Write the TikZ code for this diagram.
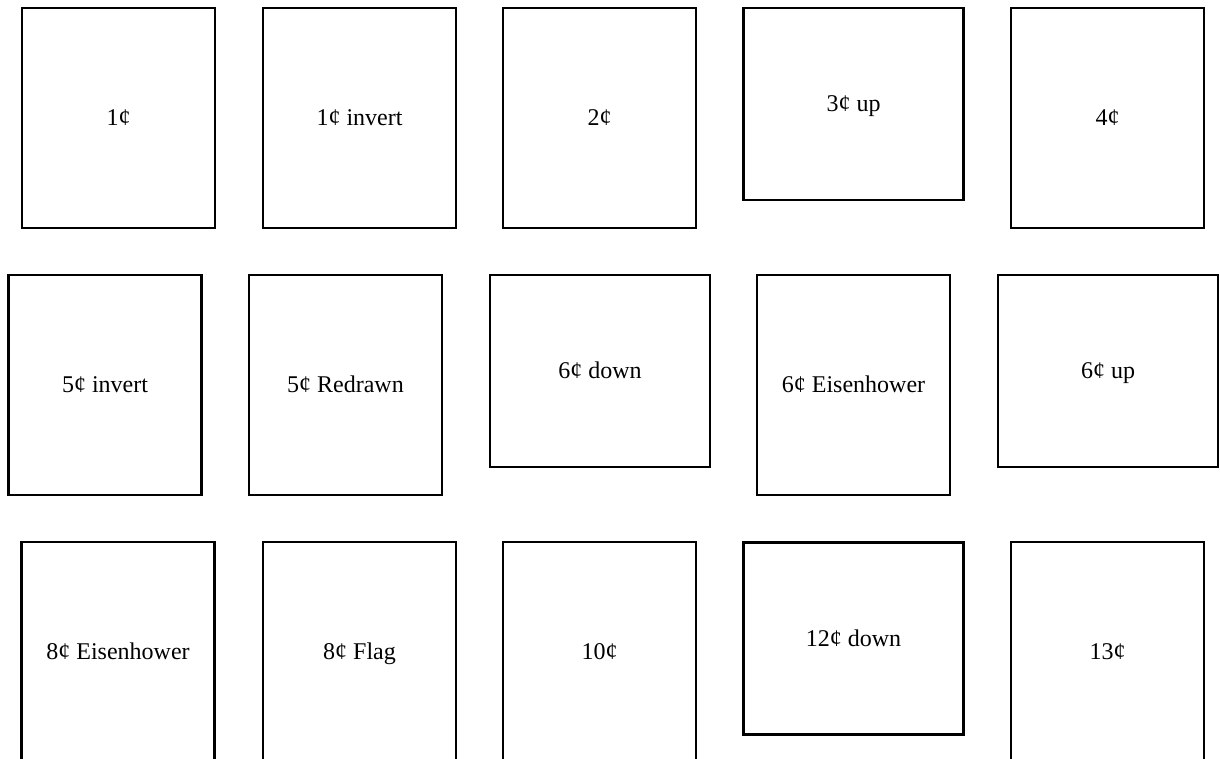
\documentclass[tikz,border=0pt]{standalone}
\usepackage{fontspec}
\setmainfont{Liberation Serif}
\begin{document}
\begin{tikzpicture}[x=0.5pt,y=-0.5pt,
  stamp/.style={draw=black, line width=1.25pt, inner sep=0pt, align=center,
    text height=9.4pt, text depth=1.6pt,
    font=\fontsize{12}{14}\selectfont},
  tallbox/.style={stamp, minimum width=96.5pt, minimum height=110pt},
  widebox/.style={stamp, minimum width=110pt, minimum height=96pt}]
\useasboundingbox (0,0) rectangle (1220,759);
\clip (0,0) rectangle (1220,759);
% row 1
\node[tallbox] (c1)  at (118.5,118) {1¢};
\node[tallbox] (c1i) at (359.5,118) {1¢ invert};
\node[tallbox] (c2)  at (599.5,118) {2¢};
\node[widebox] (c3)  at (853.5,104) {3¢ up};
\node[tallbox] (c4)  at (1107.5,118) {4¢};
% row 2
\node[tallbox] (c5i) at (105,385) {5¢ invert};
\node[tallbox] (c5r) at (345.5,385) {5¢ Redrawn};
\node[widebox] (c6d) at (600,371) {6¢ down};
\node[tallbox] (c6e) at (853.5,385) {6¢ Eisenhower};
\node[widebox] (c6u) at (1108,371) {6¢ up};
% row 3
\node[tallbox] (c8e) at (118,652) {8¢ Eisenhower};
\node[tallbox] (c8f) at (359.5,652) {8¢ Flag};
\node[tallbox] (c10) at (599.5,652) {10¢};
\node[widebox] (c12) at (853.5,638.5) {12¢ down};
\node[tallbox] (c13) at (1107.5,652) {13¢};
\end{tikzpicture}
\end{document}
